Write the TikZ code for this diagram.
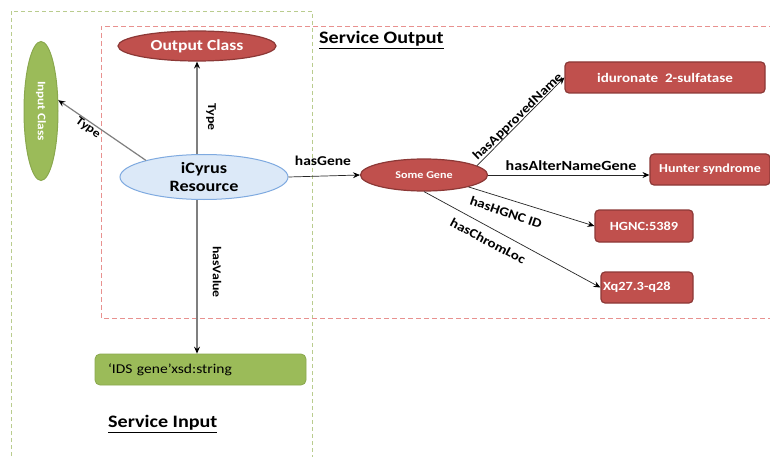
\documentclass[tikz,border=0pt]{standalone}
\usepackage{fontspec}
\setmainfont{Carlito}[FakeStretch=1.15]
\usetikzlibrary{arrows.meta,shapes.geometric}
\definecolor{redfill}{HTML}{C0504D}
\definecolor{redline}{HTML}{8C3836}
\definecolor{greenfill}{HTML}{9BBB59}
\definecolor{greenline}{HTML}{8AA84E}
\definecolor{bluefill}{HTML}{DCE9F8}
\definecolor{blueline}{HTML}{7FAAE0}
\definecolor{reddash}{HTML}{E8918F}
\definecolor{greendash}{HTML}{B9CC8E}
\definecolor{arrowgrey}{HTML}{7F7F7F}
\begin{document}
\begin{tikzpicture}[x=1pt,y=-1pt,
  redell/.style={ellipse, draw=redline, line width=1.2pt, fill=redfill, text=white, inner sep=0pt},
  redbox/.style={rectangle, rounded corners=4pt, draw=redline, line width=1.2pt, fill=redfill, text=white, inner sep=0pt, font=\bfseries\fontsize{12.5}{15}\selectfont},
  lbl/.style={inner sep=0pt, font=\bfseries\fontsize{13}{15}\selectfont},
  lblsmall/.style={inner sep=0pt, font=\bfseries\fontsize{12}{14}\selectfont},
  lblbig/.style={inner sep=0pt, font=\bfseries\fontsize{14}{16}\selectfont},
  title/.style={inner sep=0pt, anchor=west, font=\bfseries\fontsize{17.5}{20}\selectfont},
  garrow/.style={draw=arrowgrey, line width=1.2pt, -{Stealth[length=7pt,width=6pt,inset=2.5pt,color=black]}},
  darrow/.style={draw=black!85, line width=0.7pt, -{Stealth[length=7pt,width=6pt,inset=2.5pt,color=black]}},
  gdash/.style={draw=greendash, line width=0.9pt, dash pattern=on 4pt off 3pt},
  rdash/.style={draw=reddash, line width=0.9pt, dash pattern=on 5pt off 3pt}]
\useasboundingbox (0,0) rectangle (770,457);
\fill[white] (0,0) rectangle (770,457);
% frames
\draw[gdash] (11,470) -- (11,11) -- (312,11) -- (312,470);
\draw[rdash] (790,26) -- (101,26) -- (101,318) -- (790,318);
% titles
\node[title] (sout) at (319,40) {\underline{Service Output}};
\node[title] (sin) at (108,424) {\underline{Service Input}};
% nodes
\node[redell, minimum width=158pt, minimum height=30pt, font=\bfseries\fontsize{15.3}{18}\selectfont] (out) at (197,46) {Output Class};
\node[ellipse, draw=greenline, line width=1pt, fill=greenfill, text=white, inner sep=0pt, minimum width=34pt, minimum height=139pt, font=\bfseries\fontsize{11.5}{14}\selectfont] (in) at (41,111) {\rotatebox{-90}{Input Class}};
\node[ellipse, draw=blueline, line width=1pt, fill=bluefill, inner sep=0pt, minimum width=168pt, minimum height=45pt, align=center, font=\bfseries\fontsize{15.8}{18}\selectfont] (res) at (204,177) {iCyrus\\Resource};
\node[rectangle, rounded corners=5pt, draw=greenline, line width=0.8pt, fill=greenfill, minimum width=211pt, minimum height=31pt, inner xsep=13pt, inner ysep=0pt, text width=185pt, align=left, font=\fontsize{13.5}{16}\selectfont] (val) at (200.5,369.5) {‘IDS gene’xsd:string};
\node[redell, minimum width=127pt, minimum height=32pt, font=\bfseries\fontsize{10.5}{12}\selectfont] (gene) at (424,175) {Some Gene};
\node[redbox, minimum width=200pt, minimum height=31pt, font=\bfseries\fontsize{13.1}{15}\selectfont] (idu) at (665,77.5) {iduronate\ \ 2-sulfatase};
\node[redbox, minimum width=120pt, minimum height=31pt, font=\bfseries\fontsize{12.2}{15}\selectfont] (hun) at (710,169.5) {Hunter syndrome};
\node[redbox, minimum width=98pt, minimum height=32pt] (hgnc) at (644,226) {\raisebox{-3pt}{HGNC:5389}};
\node[redbox, minimum width=92pt, minimum height=31pt, inner xsep=2pt, text width=88pt, align=left] (xq) at (647,287.5) {Xq27.3-q28};
% connectors
\draw[garrow] (res.north -| out.south) -- (out.south);
\draw[garrow] (res.164) -- (in.32);
\draw[garrow] (res.south -| out.south) -- (val.north -| out.south);
\draw[darrow] (res.east) -- (gene.west);
\draw[darrow] (gene.10) -- (idu.west);
\draw[darrow] (gene.east) -- (gene.east -| hun.west);
\draw[darrow] (gene.-15) -- (hgnc.west);
\draw[darrow] (gene.south) -- (xq.west);
% labels
\node[lblsmall, rotate=-90] (l1) at (211,117) {Type};
\node[lblsmall, rotate=-36] (l2) at (88,128) {Type};
\node[lblsmall, rotate=-90] (l3) at (217,272) {hasValue};
\node[lbl, font=\bfseries\fontsize{13.5}{15}\selectfont] (l4) at (323,161) {hasGene};
\node[lbl, rotate=44] (l5) at (518,117) {hasApprovedName};
\node[lblbig] (l6) at (571,166) {hasAlterNameGene};
\node[lbl, rotate=-19] (l7) at (506,212) {hasHGNC ID};
\node[lbl, rotate=-28] (l8) at (488,241) {hasChromLoc};
\end{tikzpicture}
\end{document}
